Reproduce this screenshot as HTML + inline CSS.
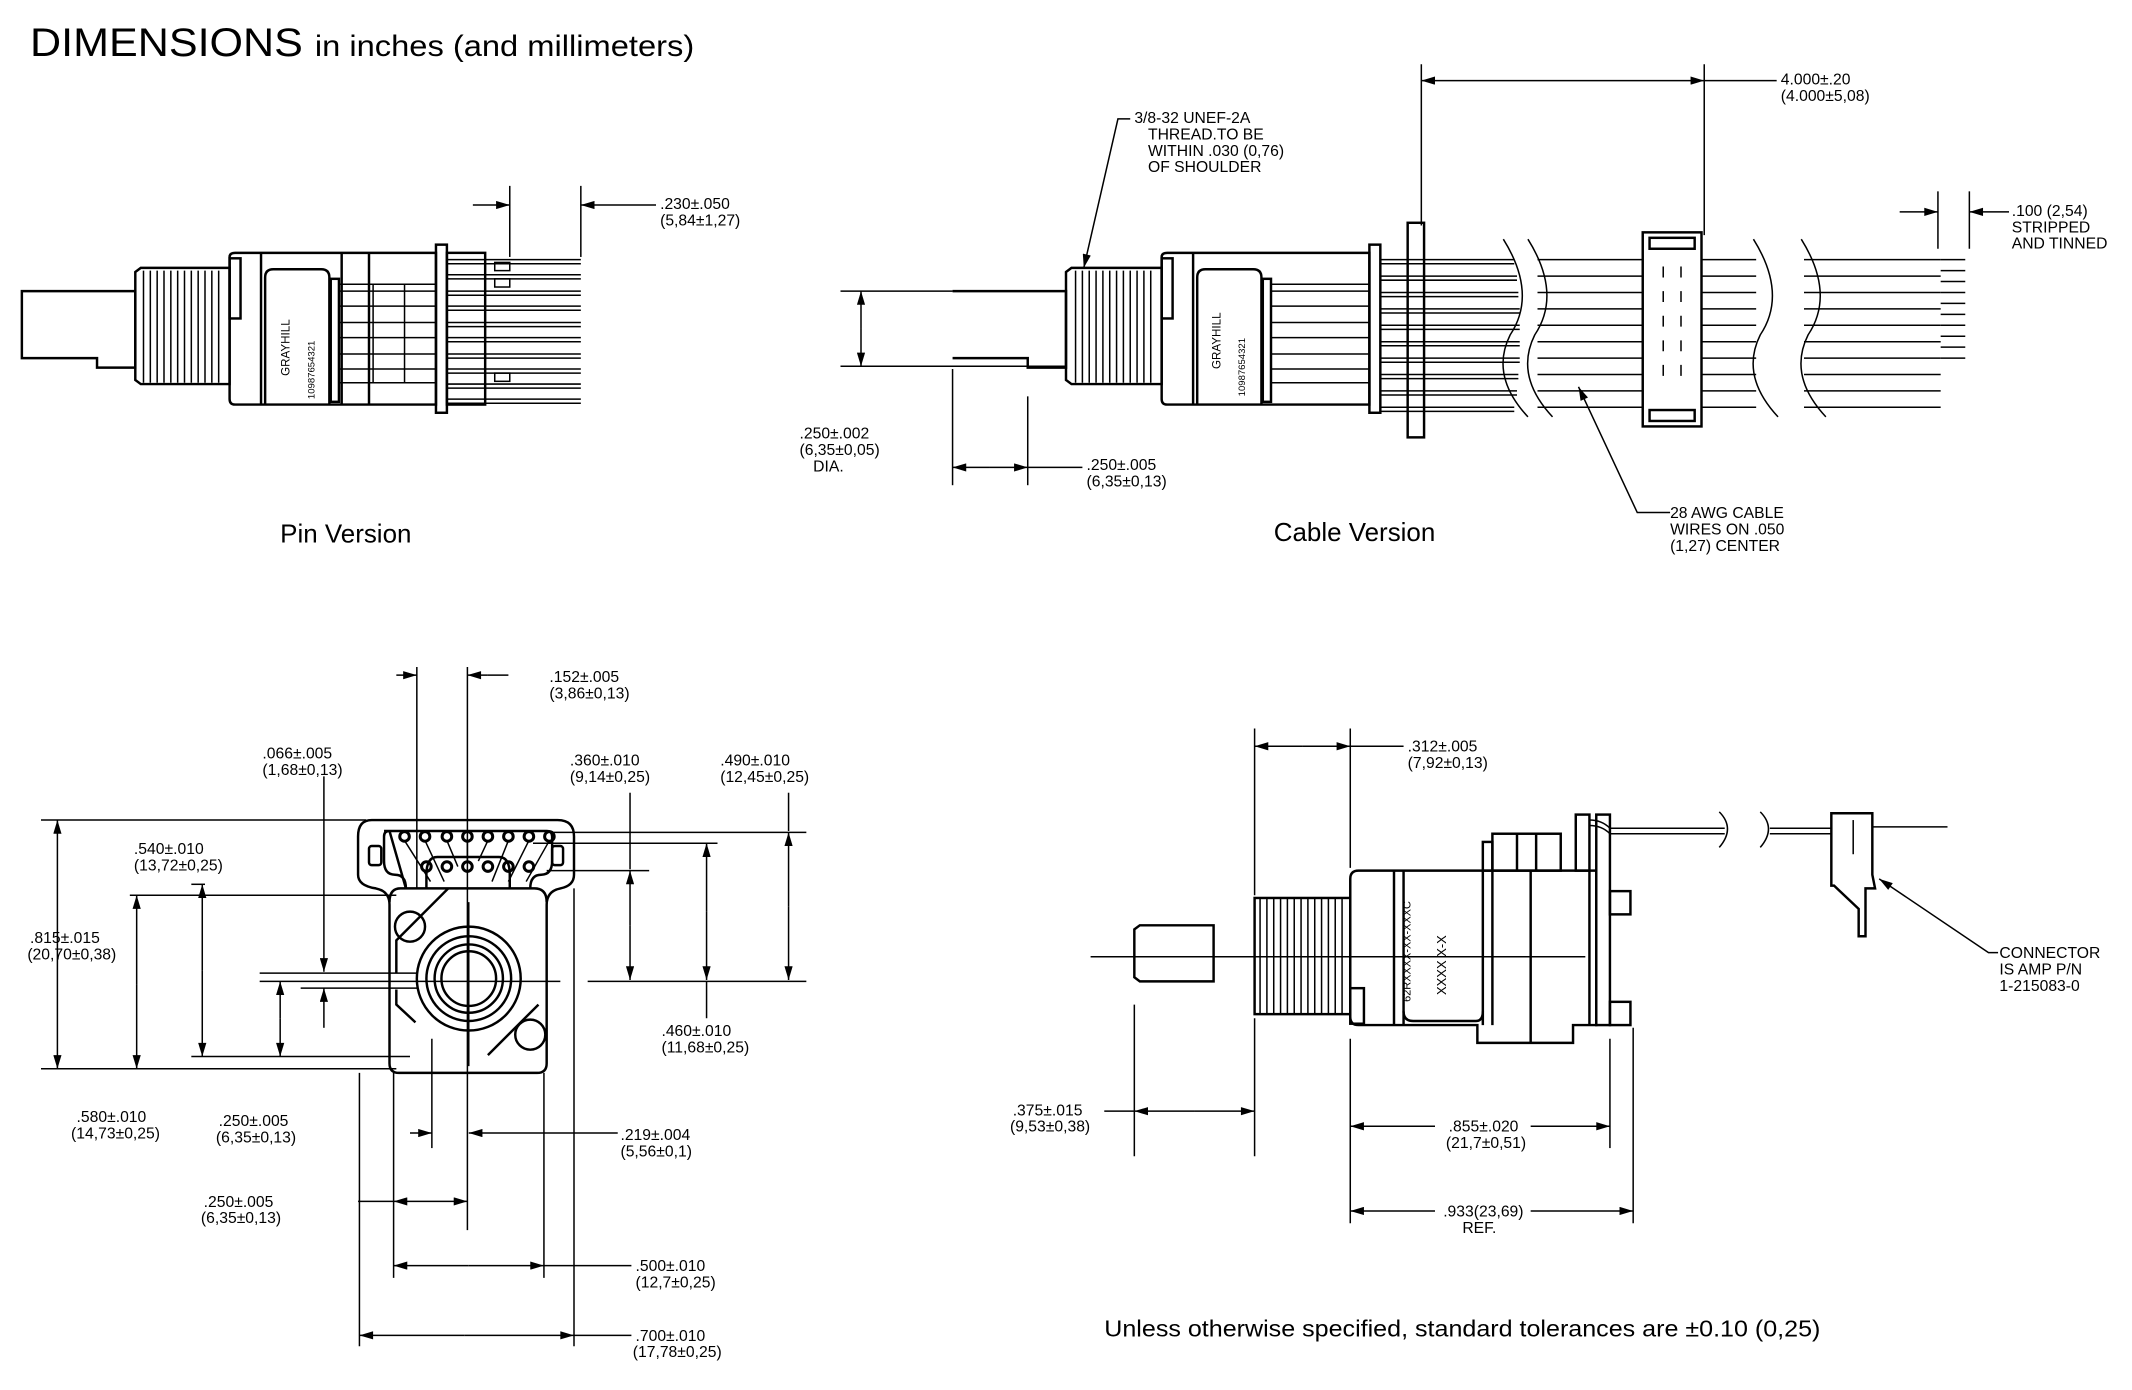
<!DOCTYPE html>
<html><head><meta charset="utf-8"><style>
html,body{margin:0;padding:0;background:#fff;}
svg{display:block;}
text{font-family:"Liberation Sans",Arial,sans-serif;fill:#000;}
.t{font-size:11.5px;}
.b{fill:none;stroke:#000;stroke-width:1.8;}
.d{fill:none;stroke:#000;stroke-width:1.1;}
</style></head><body>
<svg width="2132" height="1390" viewBox="0 0 1560 1017" preserveAspectRatio="none" xmlns="http://www.w3.org/2000/svg">
<defs>
<marker id="a" viewBox="0 0 10 6" refX="10" refY="3" markerWidth="14" markerHeight="6" markerUnits="userSpaceOnUse" orient="auto-start-reverse"><path d="M0,0L10,3L0,6z" fill="#000"/></marker>
</defs>
<rect width="1560" height="1017" fill="#fff"/>
<text x="22" y="41" font-size="29" textLength="486" lengthAdjust="spacingAndGlyphs">DIMENSIONS <tspan font-size="22">in inches (and millimeters)</tspan></text>

<!-- PIN VERSION -->
<g class="b">
<path d="M16,213 H99 V269 H71 V262 H16 Z"/>
<path d="M99,199 L103,196 H168 V281 H103 L99,278 Z"/>
<path d="M168,188 Q168,185 172,185 H319 V296 H172 Q168,296 168,292 Z"/>
<rect x="168" y="189" width="8" height="44"/>
<line x1="191" y1="185" x2="191" y2="296"/>
<path d="M194,296 V203 Q194,197 200,197 H235 Q241,197 241,203 V296"/>
<rect x="242" y="204" width="6" height="90"/>
<line x1="250" y1="185" x2="250" y2="296"/><line x1="270" y1="185" x2="270" y2="296"/>
<rect x="319" y="179" width="8" height="123"/>
<rect x="327" y="185" width="28" height="111"/>
</g>
<g class="d">
<line x1="248" y1="208" x2="319" y2="208"/><line x1="248" y1="280" x2="319" y2="280"/>
<line x1="273" y1="208" x2="273" y2="280"/><line x1="296" y1="208" x2="296" y2="280"/>
<path d="M327,190h98M327,193h98M327,201h98M327,204h98M327,213h98M327,216h98M327,224h98M327,227h98M327,236h98M327,239h98M327,247h98M327,250h98M327,259h98M327,262h98M327,270h98M327,273h98M327,281h98M327,284h98M327,292h98M327,295h98"/>
<path d="M248,213h71M248,224h71M248,236h71M248,247h71M248,259h71M248,270h71"/>
<rect x="362" y="192" width="11" height="6"/><rect x="362" y="204" width="11" height="6"/><rect x="362" y="273" width="11" height="6"/>
<line x1="373" y1="136" x2="373" y2="188"/><line x1="425" y1="136" x2="425" y2="188"/>
<line x1="346" y1="150" x2="373" y2="150" marker-end="url(#a)"/>
<line x1="480" y1="150" x2="425" y2="150" marker-end="url(#a)"/>
</g>
<text x="212" y="275" font-size="8.5" transform="rotate(-90 212 275)">GRAYHILL</text>
<text x="230" y="292" font-size="7" transform="rotate(-90 230 292)">10987654321</text>
<text class="t" x="483" y="153">.230±.050</text><text class="t" x="483" y="165">(5,84±1,27)</text>
<text x="205" y="397" font-size="19">Pin Version</text>

<!-- CABLE VERSION -->
<g class="b">
<path d="M697,213 H780 V269 H752 V262 H697"/>
<path d="M780,199 L784,196 H850 V281 H784 L780,278 Z"/>
<path d="M850,188 Q850,185 854,185 H1002 V296 H854 Q850,296 850,292 Z"/>
<rect x="850" y="189" width="8" height="44"/>
<line x1="873" y1="185" x2="873" y2="296"/>
<path d="M876,296 V203 Q876,197 882,197 H917 Q923,197 923,203 V296"/>
<rect x="924" y="204" width="6" height="90"/>
<rect x="1002" y="179" width="8" height="123"/>
<rect x="1030" y="163" width="12" height="157"/>
<rect x="1202" y="170" width="43" height="142"/>
<rect x="1207" y="174" width="33" height="8"/><rect x="1207" y="300" width="33" height="8"/>
</g>
<g class="d">
<path d="M787,198v82M792,198v82M797,198v82M802,198v82M807,198v82M812,198v82M817,198v82M822,198v82M827,198v82M832,198v82M837,198v82M842,198v82"/>
<path d="M105,198v82M110,198v82M115,198v82M120,198v82M125,198v82M130,198v82M135,198v82M140,198v82M145,198v82M150,198v82M155,198v82M160,198v82"/>
<line x1="930" y1="208" x2="1002" y2="208"/><line x1="930" y1="280" x2="1002" y2="280"/>
<path d="M930,213h72M930,224h72M930,236h72M930,247h72M930,259h72M930,270h72"/>
<path d="M1010,190h98M1010,193h98M1010,202h100M1010,205h100M1010,214h101M1010,217h101M1010,226h102M1010,229h102M1010,238h102M1010,241h102M1010,250h102M1010,253h102M1010,262h102M1010,265h102M1010,274h101M1010,277h101M1010,286h100M1010,289h100M1010,298h98M1010,301h98"/>
<path d="M1125,190h77M1125,202h77M1125,214h77M1125,226h77M1125,238h77M1125,250h77M1125,262h77M1125,274h77M1125,286h77M1125,298h77"/>
<path d="M1245,190h40M1245,202h40M1245,214h40M1245,226h40M1245,238h40M1245,250h40M1245,262h40M1245,274h40M1245,286h40M1245,298h40"/>
<path d="M1320,190h100M1320,202h100M1320,214h100M1320,226h100M1320,238h100M1320,250h100M1320,262h100M1320,274h100M1320,286h100M1320,298h100"/>
<path d="M1420,190h18M1420,198h18M1420,206h18M1420,214h18M1420,222h18M1420,230h18M1420,238h18M1420,246h18M1420,254h18M1420,262h18"/>
<path d="M1100,175 Q1125,215 1105,245 Q1090,275 1118,305"/>
<path d="M1118,175 Q1143,215 1123,245 Q1108,275 1136,305"/>
<path d="M1283,175 Q1308,215 1288,245 Q1273,275 1301,305"/>
<path d="M1318,175 Q1343,215 1323,245 Q1308,275 1336,305"/>
<path d="M1217,195v8M1217,213v8M1217,231v8M1217,249v8M1217,267v8M1230,195v8M1230,213v8M1230,231v8M1230,249v8M1230,267v8"/>
<line x1="615" y1="213" x2="697" y2="213"/><line x1="615" y1="268" x2="780" y2="268"/>
<line x1="630" y1="240" x2="630" y2="213" marker-end="url(#a)"/><line x1="630" y1="240" x2="630" y2="268" marker-end="url(#a)"/>
<line x1="697" y1="270" x2="697" y2="355"/><line x1="752" y1="290" x2="752" y2="355"/>
<line x1="724" y1="342" x2="697" y2="342" marker-end="url(#a)"/><line x1="724" y1="342" x2="752" y2="342" marker-end="url(#a)"/><line x1="752" y1="342" x2="792" y2="342"/>
<line x1="1040" y1="47" x2="1040" y2="165"/><line x1="1247" y1="47" x2="1247" y2="172"/>
<line x1="1140" y1="59" x2="1040" y2="59" marker-end="url(#a)"/><line x1="1140" y1="59" x2="1247" y2="59" marker-end="url(#a)"/><line x1="1247" y1="59" x2="1300" y2="59"/>
<line x1="1418" y1="140" x2="1418" y2="182"/><line x1="1441" y1="140" x2="1441" y2="182"/>
<line x1="1390" y1="155" x2="1418" y2="155" marker-end="url(#a)"/><line x1="1470" y1="155" x2="1441" y2="155" marker-end="url(#a)"/>
<polyline points="827,87 818,87 793,196" marker-end="url(#a)"/>
<polyline points="1222,375 1198,375 1155,283" marker-end="url(#a)"/>
</g>
<text x="893" y="270" font-size="8.5" transform="rotate(-90 893 270)">GRAYHILL</text>
<text x="911" y="290" font-size="7" transform="rotate(-90 911 290)">10987654321</text>
<text class="t" x="830" y="90">3/8-32 UNEF-2A</text><text class="t" x="840" y="102">THREAD.TO BE</text><text class="t" x="840" y="114">WITHIN .030 (0,76)</text><text class="t" x="840" y="126">OF SHOULDER</text>
<text class="t" x="585" y="321">.250±.002</text><text class="t" x="585" y="333">(6,35±0,05)</text><text class="t" x="595" y="345">DIA.</text>
<text class="t" x="795" y="344">.250±.005</text><text class="t" x="795" y="356">(6,35±0,13)</text>
<text class="t" x="1303" y="62">4.000±.20</text><text class="t" x="1303" y="74">(4.000±5,08)</text>
<text class="t" x="1472" y="158">.100 (2,54)</text><text class="t" x="1472" y="170">STRIPPED</text><text class="t" x="1472" y="182">AND TINNED</text>
<text class="t" x="1222" y="379">28 AWG CABLE</text><text class="t" x="1222" y="391">WIRES ON .050</text><text class="t" x="1222" y="403">(1,27) CENTER</text>
<text x="932" y="396" font-size="19">Cable Version</text>

<!-- FRONT VIEW -->
<g class="b">
<path d="M272,600 H408 Q420,600 420,612 V640 Q420,648 410,650 Q400,652 400,662 V778 Q400,785 393,785 H292 Q285,785 285,778 V662 Q285,652 275,650 Q262,648 262,640 V612 Q262,600 272,600 Z"/>
<path d="M285,660 Q285,650 293,650 H391 Q400,650 400,660"/>
<path d="M281,608 H400 Q404,608 404,612 V630 Q404,640 396,640 Q388,640 388,650 M297,650 Q297,640 289,640 Q281,640 281,630 V612 Q281,608 285,608 Z"/>
<path d="M312,650 V640 Q312,627 320,627 H365 Q373,627 373,640 V650"/>
<rect x="270" y="619" width="9" height="14" rx="2"/><rect x="404" y="619" width="8" height="14" rx="2"/>
<circle cx="300" cy="678" r="11"/><circle cx="388" cy="757" r="11"/>
<path d="M328,650 L290,688 V712 M290,724 V735 L304,748"/>
<path d="M394,735 L357,772"/>
<circle cx="343" cy="716" r="38"/><circle cx="343" cy="716" r="31"/><circle cx="343" cy="716" r="25"/><circle cx="343" cy="716" r="20"/>
</g>
<g fill="none" stroke="#000" stroke-width="2.2">
<circle cx="296" cy="612" r="3.5"/><circle cx="311" cy="612" r="3.5"/><circle cx="327" cy="612" r="3.5"/><circle cx="342" cy="612" r="3.5"/><circle cx="357" cy="612" r="3.5"/><circle cx="372" cy="612" r="3.5"/><circle cx="387" cy="612" r="3.5"/><circle cx="402" cy="612" r="3.5"/>
<circle cx="312" cy="634" r="3.5"/><circle cx="327" cy="634" r="3.5"/><circle cx="342" cy="634" r="3.5"/><circle cx="357" cy="634" r="3.5"/><circle cx="372" cy="634" r="3.5"/><circle cx="387" cy="634" r="3.5"/>
</g>
<g class="d">
<path d="M296,615 L315,645 M311,615 L325,645 M327,615 L335,634 M372,615 L360,645 M387,615 L372,645 M402,615 L385,645 M357,615 L350,630 M342,615 L342,630"/>
<line x1="305" y1="488" x2="305" y2="650"/><line x1="342" y1="488" x2="342" y2="900"/>
<line x1="290" y1="494" x2="305" y2="494" marker-end="url(#a)"/><line x1="357" y1="494" x2="342" y2="494" marker-end="url(#a)"/><line x1="357" y1="494" x2="372" y2="494"/>
<line x1="237" y1="568" x2="237" y2="711" marker-end="url(#a)"/><line x1="237" y1="752" x2="237" y2="723" marker-end="url(#a)"/>
<line x1="190" y1="712" x2="305" y2="712"/><line x1="220" y1="723" x2="305" y2="723"/>
<line x1="30" y1="600" x2="268" y2="600"/><line x1="30" y1="782" x2="290" y2="782"/>
<line x1="42" y1="690" x2="42" y2="600" marker-end="url(#a)"/><line x1="42" y1="690" x2="42" y2="782" marker-end="url(#a)"/>
<line x1="95" y1="655" x2="290" y2="655"/>
<line x1="100" y1="720" x2="100" y2="655" marker-end="url(#a)"/><line x1="100" y1="720" x2="100" y2="782" marker-end="url(#a)"/>
<line x1="140" y1="773" x2="300" y2="773"/><line x1="140" y1="647" x2="150" y2="647"/>
<line x1="148" y1="710" x2="148" y2="647" marker-end="url(#a)"/><line x1="148" y1="710" x2="148" y2="773" marker-end="url(#a)"/>
<line x1="190" y1="718" x2="410" y2="718"/>
<line x1="205" y1="745" x2="205" y2="718" marker-end="url(#a)"/><line x1="205" y1="745" x2="205" y2="773" marker-end="url(#a)"/>
<line x1="400" y1="637" x2="475" y2="637"/><line x1="430" y1="718" x2="590" y2="718"/><line x1="405" y1="609" x2="590" y2="609"/><line x1="390" y1="617" x2="525" y2="617"/>
<line x1="461" y1="580" x2="461" y2="636" /><line x1="461" y1="677" x2="461" y2="637" marker-end="url(#a)"/><line x1="461" y1="677" x2="461" y2="717" marker-end="url(#a)"/>
<line x1="577" y1="580" x2="577" y2="608"/><line x1="577" y1="663" x2="577" y2="609" marker-end="url(#a)"/><line x1="577" y1="663" x2="577" y2="717" marker-end="url(#a)"/>
<line x1="517" y1="667" x2="517" y2="617" marker-end="url(#a)"/><line x1="517" y1="667" x2="517" y2="717" marker-end="url(#a)"/><line x1="517" y1="718" x2="517" y2="745"/>
<line x1="343" y1="660" x2="343" y2="780"/>
<line x1="263" y1="785" x2="263" y2="985"/><line x1="288" y1="785" x2="288" y2="935"/><line x1="316" y1="760" x2="316" y2="840"/><line x1="398" y1="785" x2="398" y2="935"/><line x1="420" y1="650" x2="420" y2="985"/>
<line x1="300" y1="829" x2="316" y2="829" marker-end="url(#a)"/><line x1="360" y1="829" x2="343" y2="829" marker-end="url(#a)"/><line x1="360" y1="829" x2="452" y2="829"/>
<line x1="262" y1="879" x2="288" y2="879"/><line x1="315" y1="879" x2="288" y2="879" marker-end="url(#a)"/><line x1="315" y1="879" x2="342" y2="879" marker-end="url(#a)"/>
<line x1="343" y1="926" x2="288" y2="926" marker-end="url(#a)"/><line x1="343" y1="926" x2="398" y2="926" marker-end="url(#a)"/><line x1="398" y1="926" x2="462" y2="926"/>
<line x1="340" y1="977" x2="263" y2="977" marker-end="url(#a)"/><line x1="340" y1="977" x2="420" y2="977" marker-end="url(#a)"/><line x1="420" y1="977" x2="462" y2="977"/>
</g>
<text class="t" x="402" y="499">.152±.005</text><text class="t" x="402" y="511">(3,86±0,13)</text>
<text class="t" x="192" y="555">.066±.005</text><text class="t" x="192" y="567">(1,68±0,13)</text>
<text class="t" x="417" y="560">.360±.010</text><text class="t" x="417" y="572">(9,14±0,25)</text>
<text class="t" x="527" y="560">.490±.010</text><text class="t" x="527" y="572">(12,45±0,25)</text>
<text class="t" x="98" y="625">.540±.010</text><text class="t" x="98" y="637">(13,72±0,25)</text>
<text class="t" x="22" y="690">.815±.015</text><text class="t" x="20" y="702">(20,70±0,38)</text>
<text class="t" x="484" y="758">.460±.010</text><text class="t" x="484" y="770">(11,68±0,25)</text>
<text class="t" x="56" y="821">.580±.010</text><text class="t" x="52" y="833">(14,73±0,25)</text>
<text class="t" x="160" y="824">.250±.005</text><text class="t" x="158" y="836">(6,35±0,13)</text>
<text class="t" x="454" y="834">.219±.004</text><text class="t" x="454" y="846">(5,56±0,1)</text>
<text class="t" x="149" y="883">.250±.005</text><text class="t" x="147" y="895">(6,35±0,13)</text>
<text class="t" x="465" y="930">.500±.010</text><text class="t" x="465" y="942">(12,7±0,25)</text>
<text class="t" x="465" y="981">.700±.010</text><text class="t" x="463" y="993">(17,78±0,25)</text>

<!-- SIDE VIEW -->
<g class="b">
<path d="M830,680 L834,677 H888 V718 H834 L830,715 Z"/>
<rect x="918" y="657" width="70" height="85"/>
<path d="M988,643 Q988,637 994,637 H1168 V750 H1151 V763 H1081 V750 H994 Q988,750 988,744 Z"/>
<rect x="988" y="723" width="10" height="26"/>
<line x1="1020" y1="637" x2="1020" y2="750"/>
<path d="M1027,750 V637 M1085,637 V750"/>
<path d="M1027,740 Q1027,747 1034,747 H1080 Q1085,747 1085,740"/>
<line x1="1092" y1="637" x2="1092" y2="750"/><line x1="1120" y1="637" x2="1120" y2="763"/><line x1="1163" y1="637" x2="1163" y2="750"/>
<rect x="1092" y="610" width="50" height="27"/><line x1="1124" y1="610" x2="1124" y2="637"/><line x1="1110" y1="610" x2="1110" y2="637"/>
<rect x="1085" y="616" width="7" height="21"/>
<rect x="1153" y="596" width="10" height="41"/>
<rect x="1168" y="596" width="10" height="154"/>
<rect x="1178" y="652" width="15" height="17"/><rect x="1178" y="733" width="15" height="17"/>
<path d="M1355,595 H1370 V640 L1372,650 H1365 V685 H1360 V665 L1342,648 H1340 V595 Z"/>
</g>
<g class="d">
<path d="M922,657v85M927,657v85M932,657v85M937,657v85M942,657v85M947,657v85M952,657v85M957,657v85M962,657v85M967,657v85M972,657v85M977,657v85M982,657v85"/>
<line x1="798" y1="700" x2="1160" y2="700"/>
<path d="M1163,600 Q1172,600 1178,606 H1262 M1163,604 Q1172,604 1178,610 H1262"/>
<path d="M1295,606 H1340 M1295,610 H1340"/>
<path d="M1258,594 Q1270,606 1258,620 M1288,594 Q1300,606 1288,620"/>
<line x1="1370" y1="605" x2="1425" y2="605"/><line x1="1356" y1="600" x2="1356" y2="625"/>
<line x1="918" y1="533" x2="918" y2="655"/><line x1="988" y1="533" x2="988" y2="635"/>
<line x1="953" y1="546" x2="918" y2="546" marker-end="url(#a)"/><line x1="953" y1="546" x2="988" y2="546" marker-end="url(#a)"/><line x1="988" y1="546" x2="1027" y2="546"/>
<line x1="830" y1="735" x2="830" y2="846"/><line x1="918" y1="745" x2="918" y2="846"/>
<line x1="808" y1="813" x2="830" y2="813"/><line x1="874" y1="813" x2="830" y2="813" marker-end="url(#a)"/><line x1="874" y1="813" x2="918" y2="813" marker-end="url(#a)"/>
<line x1="988" y1="760" x2="988" y2="895"/><line x1="1178" y1="760" x2="1178" y2="840"/><line x1="1195" y1="752" x2="1195" y2="895"/>
<line x1="1050" y1="824" x2="988" y2="824" marker-end="url(#a)"/><line x1="1120" y1="824" x2="1178" y2="824" marker-end="url(#a)"/>
<line x1="1050" y1="886" x2="988" y2="886" marker-end="url(#a)"/><line x1="1120" y1="886" x2="1195" y2="886" marker-end="url(#a)"/>
<polyline points="1462,697 1455,697 1375,643" marker-end="url(#a)"/>
</g>
<text x="1032" y="733" font-size="8" transform="rotate(-90 1032 733)">62RXXXX-XX-XXXC</text>
<text x="1058" y="728" font-size="9.5" transform="rotate(-90 1058 728)">XXXX X-X</text>
<text class="t" x="1030" y="550">.312±.005</text><text class="t" x="1030" y="562">(7,92±0,13)</text>
<text class="t" x="741" y="816">.375±.015</text><text class="t" x="739" y="828">(9,53±0,38)</text>
<text class="t" x="1060" y="828">.855±.020</text><text class="t" x="1058" y="840">(21,7±0,51)</text>
<text class="t" x="1056" y="890">.933(23,69)</text><text class="t" x="1070" y="902">REF.</text>
<text class="t" x="1463" y="701">CONNECTOR</text><text class="t" x="1463" y="713">IS AMP P/N</text><text class="t" x="1463" y="725">1-215083-0</text>
<text x="808" y="978" font-size="17" textLength="524" lengthAdjust="spacingAndGlyphs">Unless otherwise specified, standard tolerances are ±0.10 (0,25)</text>
</svg>
</body></html>
